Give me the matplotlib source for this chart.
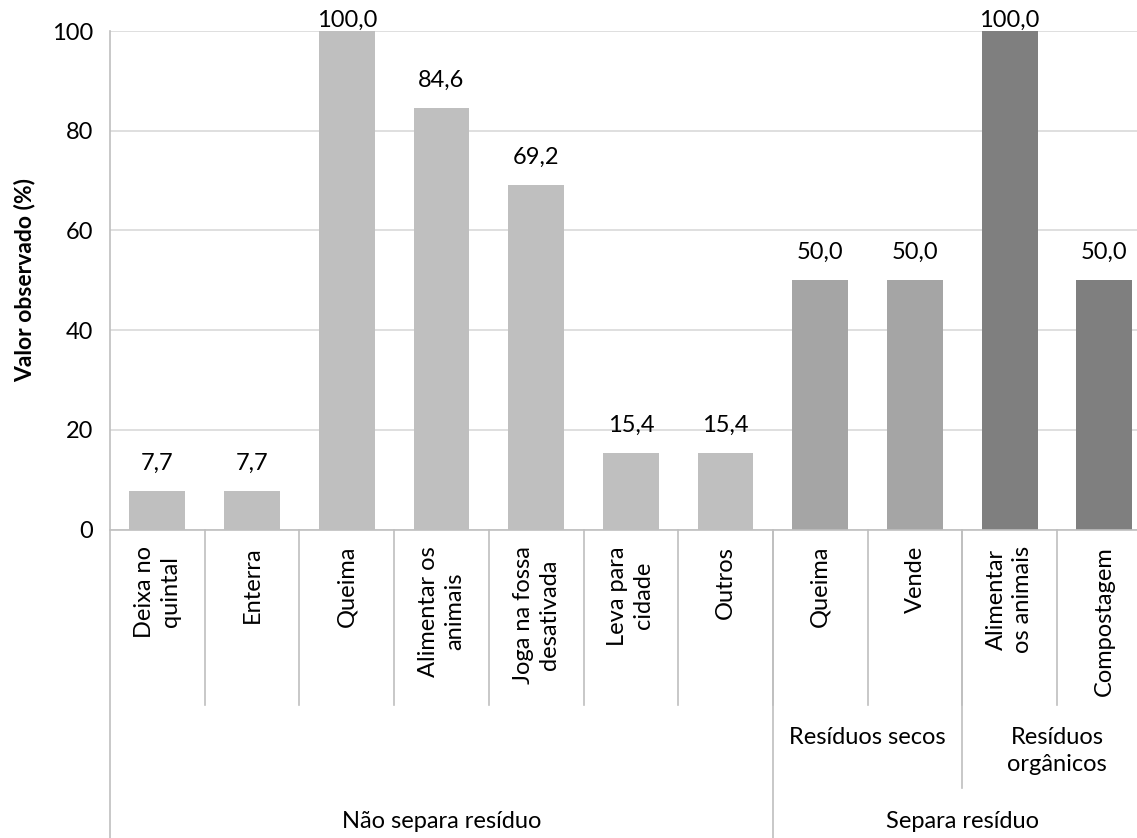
import matplotlib.pyplot as plt
import matplotlib.transforms as mtransforms

plt.rcParams['font.family'] = ['Lato', 'DejaVu Sans']

# data
labels = ['Deixa no\nquintal', 'Enterra', 'Queima', 'Alimentar os\nanimais',
          'Joga na fossa\ndesativada', 'Leva para\ncidade', 'Outros',
          'Queima', 'Vende', 'Alimentar\nos animais', 'Compostagem']
values = [7.7, 7.7, 100.0, 84.6, 69.2, 15.4, 15.4, 50.0, 50.0, 100.0, 50.0]
colors = ['#BFBFBF'] * 7 + ['#A5A5A5'] * 2 + ['#7F7F7F'] * 2

# (label, first index, last index)
subgroups = [('Resíduos secos', 7, 8), ('Resíduos\norgânicos', 9, 10)]
groups = [('Não separa resíduo', 0, 6), ('Separa resíduo', 7, 10)]

W, H = 1137, 838
fig = plt.figure(figsize=(W / 100, H / 100), dpi=100)

# pixel geometry of the excel plot area
x0, y0, ytop = 110, 529.5, 31
cat_w = 94.7
ax = fig.add_axes([x0 / W, 1 - y0 / H, (W - x0) / W, (y0 - ytop) / H])

xs = list(range(len(values)))
ax.bar(xs, values, width=0.59, color=colors, zorder=2)
ax.set_xlim(-0.5, -0.5 + (W - x0) / cat_w)
ax.set_ylim(0, 100)
ax.set_yticks([0, 20, 40, 60, 80, 100])
ax.yaxis.grid(True, color='#D9D9D9', linewidth=1.2, zorder=0)
ax.tick_params(axis='y', length=0, labelsize=17, pad=12)
ax.set_xticks([])
for s in ['top', 'right', 'left']:
    ax.spines[s].set_visible(False)
ax.spines['bottom'].set_color('#BFBFBF')
ax.spines['bottom'].set_linewidth(1.2)
ax.set_ylabel('Valor observado (%)', fontsize=16.5, fontweight='bold', labelpad=12)

for x, v in zip(xs, values):
    off = 0 if v >= 100 else 17
    ax.annotate(f'{v:.1f}'.replace('.', ','), (x, v), xytext=(0, off),
                textcoords='offset pixels', ha='center', va='bottom', fontsize=17)

trans = mtransforms.blended_transform_factory(ax.transData, ax.transAxes)
px = lambda py: (y0 - py) / (y0 - ytop)
line_kw = dict(color='#BFBFBF', linewidth=1.2, transform=trans, clip_on=False)

# left axis line running down through the category area
ax.plot([-0.5, -0.5], [1, px(H)], **line_kw)

# level 1 labels and dividers
for x, lab in zip(xs, labels):
    ax.text(x, px(546), lab, rotation=90, ha='center', va='top', fontsize=17,
            multialignment='center', linespacing=1.3, transform=trans)
for x in xs[1:]:
    ax.plot([x - 0.5, x - 0.5], [0, px(705)], **line_kw)

# level 2
for lab, a, b in subgroups:
    ax.text((a + b) / 2, px(727), lab, ha='center', va='top', fontsize=17,
            linespacing=1.35, transform=trans)
ax.plot([8.5, 8.5], [0, px(788)], **line_kw)

# level 3
for lab, a, b in groups:
    ax.text((a + b) / 2, px(811), lab, ha='center', va='top', fontsize=17,
            transform=trans)
ax.plot([6.5, 6.5], [0, px(H)], **line_kw)

fig.savefig('out.png', dpi=100)
